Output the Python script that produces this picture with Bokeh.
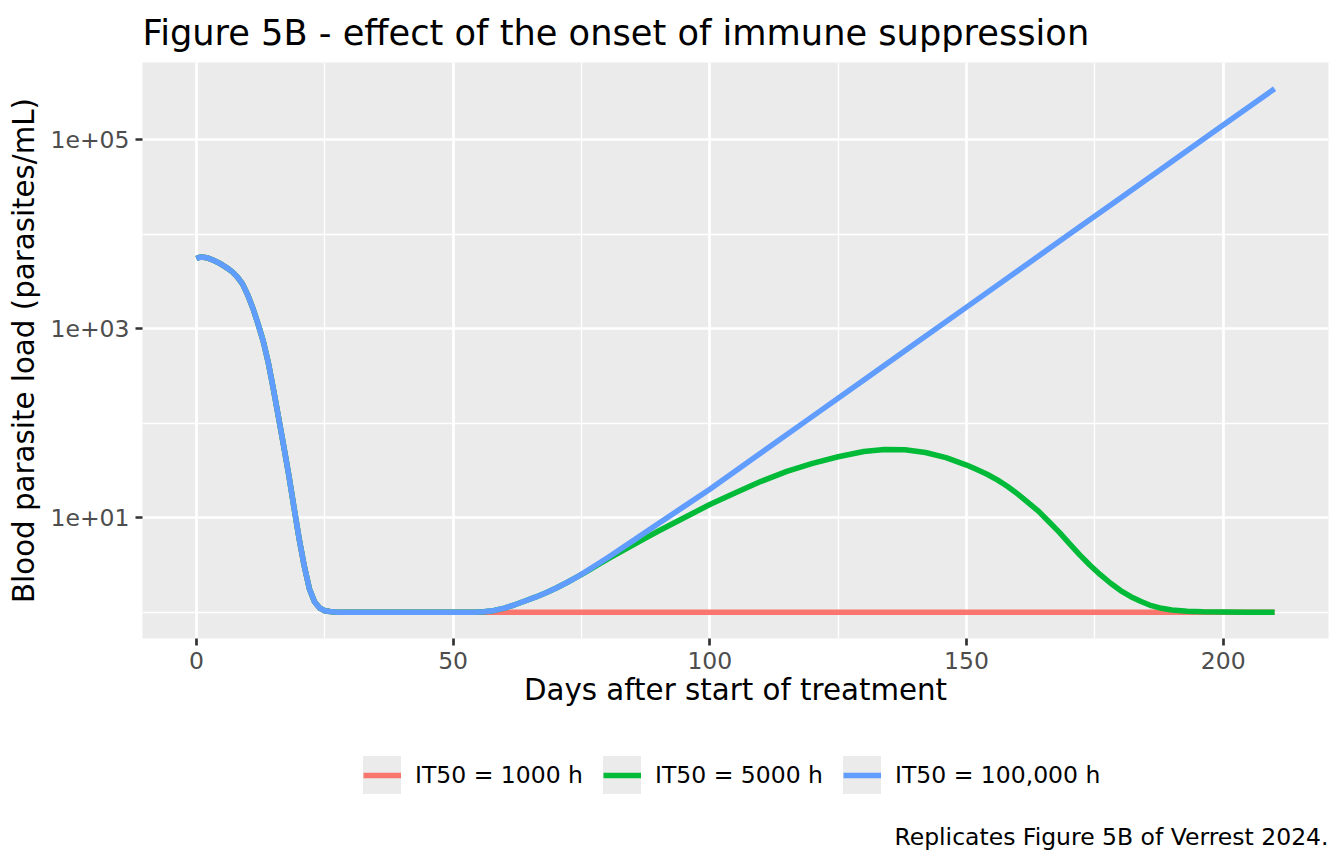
import numpy as np
from bokeh.plotting import figure
from bokeh.layouts import column
from bokeh.models import (ColumnDataSource, Range1d, FixedTicker, Legend,
                          LegendItem, Label)
from bokeh.embed import file_html
from bokeh.resources import INLINE

# ---------------- data ----------------
# shared initial decline (all three scenarios overlap)
decline_days = [0, 0.5, 1, 2, 3, 4, 5, 6, 7, 8, 9, 10, 11, 12, 13, 14, 15,
                16, 17, 18, 19, 20, 21, 22, 23, 24, 25, 26, 27, 28]
decline_load = [5508, 5649, 5715, 5623, 5370, 5070, 4732, 4365, 3981, 3508,
                2951, 2265, 1641, 1122, 741, 437, 229, 115, 57.5, 28.2, 12.9,
                6.03, 3.09, 1.78, 1.29, 1.11, 1.04, 1.02, 1.007, 1.0]

# IT50 = 1000 h : stays at the floor
red_tail_days = [40, 55, 80, 120, 160, 210]
red_tail_load = [1.0, 1.0, 1.0, 1.0, 1.0, 1.0]

# shared plateau + start of relapse (5000 h and 100,000 h overlap)
rise_days = [40, 54, 56, 58, 60, 62, 64, 66, 68, 70, 72, 74]
rise_load = [1.0, 1.0, 1.012, 1.047, 1.109, 1.202, 1.318, 1.445, 1.603,
             1.799, 2.042, 2.344]

# IT50 = 5000 h
green_tail_days = [76, 78, 80, 82, 85, 88, 90, 95, 100, 105, 110, 115, 120,
                   125, 130, 134, 138, 142, 146, 150, 152, 154, 156, 158, 160,
                   162, 164, 166, 168, 170, 172, 174, 176, 178, 180, 182, 184,
                   186, 188, 190, 193, 196, 200, 205, 210]
green_tail_load = [2.692, 3.126, 3.631, 4.169, 5.129, 6.310, 7.244, 10.0,
                   13.80, 18.41, 24.27, 30.90, 37.58, 44.16, 50.12, 52.72,
                   52.24, 48.98, 43.15, 36.06, 32.36, 28.84, 25.12, 21.38,
                   17.78, 14.45, 11.75, 9.12, 7.079, 5.370, 4.074, 3.162,
                   2.512, 2.042, 1.698, 1.462, 1.303, 1.175, 1.102, 1.059,
                   1.026, 1.012, 1.005, 1.001, 1.0]

# IT50 = 100,000 h
blue_tail_days = [76, 78, 80, 85, 90, 95, 100, 110, 120, 130, 140, 150, 160,
                  170, 180, 190, 200, 210]
blue_tail_load = [2.723, 3.199, 3.758, 5.689, 8.710, 13.18, 20.04, 48.6,
                  118.0, 286.4, 695, 1687, 4093, 9931, 24099, 58479, 141906,
                  344350]

series_labels = ["IT50 = 1000 h", "IT50 = 5000 h", "IT50 = 100,000 h"]
series_colors = ["#F8766D", "#00BA38", "#619CFF"]

x_ticks = [0, 50, 100, 150, 200]
x_minor = [25, 75, 125, 175]
y_ticks = [10, 1000, 100000]
y_tick_labels = ["1e+01", "1e+03", "1e+05"]
y_minor = [1, 100, 10000, 1000000]

title_text = "Figure 5B - effect of the onset of immune suppression"
x_label = "Days after start of treatment"
y_label = "Blood parasite load (parasites/mL)"
caption_text = "Replicates Figure 5B of Verrest 2024."

# ---------------- series assembly ----------------
series = [
    (decline_days + red_tail_days, decline_load + red_tail_load),
    (decline_days + rise_days + green_tail_days,
     decline_load + rise_load + green_tail_load),
    (decline_days + rise_days + blue_tail_days,
     decline_load + rise_load + blue_tail_load),
]

all_x = np.concatenate([np.array(s[0], float) for s in series])
all_y = np.log10(np.concatenate([np.array(s[1], float) for s in series]))
xpad = 0.05 * (all_x.max() - all_x.min())
ypad = 0.05 * (all_y.max() - all_y.min())

FONT = "DejaVu Sans"
W = 1344
MAIN_H = 720
LEG_H = 864 - MAIN_H
LEFT, RIGHT = 142, 16
FRAME_W = W - LEFT - RIGHT

p = figure(width=W, height=MAIN_H,
           x_range=Range1d(all_x.min() - xpad, all_x.max() + xpad),
           y_range=Range1d(10 ** (all_y.min() - ypad), 10 ** (all_y.max() + ypad)),
           y_axis_type="log", output_backend="svg", toolbar_location=None,
           min_border_left=LEFT, min_border_right=RIGHT, min_border_top=62,
           min_border_bottom=MAIN_H - 638)

p.background_fill_color = "#EBEBEB"
p.border_fill_color = "white"
p.outline_line_color = None

# title
p.title.text = title_text
p.title.text_font = FONT
p.title.text_font_size = "35.2px"
p.title.text_font_style = "normal"
p.title.text_color = "black"
p.title.align = "left"
p.title.standoff = 19

# ticks
xt = FixedTicker(ticks=x_ticks, minor_ticks=x_minor)
yt = FixedTicker(ticks=y_ticks, minor_ticks=y_minor)
p.xaxis.ticker = xt
p.yaxis.ticker = yt
p.xgrid.ticker = xt
p.ygrid.ticker = yt
p.yaxis.major_label_overrides = dict(zip(y_ticks, y_tick_labels))

for g in (p.xgrid, p.ygrid):
    g.grid_line_color = "white"
    g.grid_line_width = 2.7
    g.minor_grid_line_color = "white"
    g.minor_grid_line_width = 1.35

for ax in (p.xaxis, p.yaxis):
    ax.axis_line_color = None
    ax.major_tick_line_color = "#333333"
    ax.major_tick_line_width = 2.7
    ax.major_tick_in = 0
    ax.major_tick_out = 7
    ax.minor_tick_line_color = None
    ax.major_label_text_font = FONT
    ax.major_label_text_font_size = "23.5px"
    ax.major_label_text_color = "#4D4D4D"
    ax.major_label_standoff = 6
    ax.axis_label_text_font = FONT
    ax.axis_label_text_font_size = "29.3px"
    ax.axis_label_text_font_style = "normal"
    ax.axis_label_text_color = "black"
    ax.axis_label_standoff = 6

p.xaxis.axis_label_standoff = 1
p.xaxis.axis_label = x_label
p.yaxis.axis_label = y_label

# data lines
for (xs, ys), col in zip(series, series_colors):
    src = ColumnDataSource(dict(x=xs, y=ys))
    p.line("x", "y", source=src, line_color=col, line_width=5.5,
           line_join="round")

# ---------------- legend + caption strip ----------------
q = figure(width=W, height=LEG_H, x_range=Range1d(0, 1), y_range=Range1d(0, 1),
           output_backend="svg", toolbar_location=None,
           x_axis_location=None, y_axis_location=None,
           min_border_left=LEFT, min_border_right=RIGHT,
           min_border_top=0, min_border_bottom=0)
q.grid.visible = False
q.outline_line_color = None
q.background_fill_color = "white"
q.border_fill_color = "white"

# grey key square: inset rect widened by a thick same-colour stroke
key_bg = q.rect(x=[np.nan], y=[np.nan], width=1, height=1,
                fill_color="#EBEBEB", line_color="#EBEBEB", line_width=15.4,
                line_join="miter")
key_lines = [q.line(x=[np.nan], y=[np.nan], line_color=col, line_width=5.5)
             for col in series_colors]

legend = Legend(
    items=[LegendItem(label=lab, renderers=[key_bg, r])
           for lab, r in zip(series_labels, key_lines)],
    orientation="horizontal", location=(363 - LEFT, 70),
    glyph_width=38, glyph_height=38, label_standoff=14, spacing=20,
    label_text_font=FONT, label_text_font_size="23.5px",
    label_text_color="black", border_line_color=None,
    background_fill_alpha=0, padding=0, margin=0)
q.add_layout(legend, "center")

caption = Label(x=FRAME_W, y=28, x_units="screen", y_units="screen",
                text=caption_text, text_align="right",
                text_baseline="middle", text_font=FONT,
                text_font_size="23.5px", text_color="black")
q.add_layout(caption, "center")

layout = column(p, q, spacing=0)
open("out.html", "w").write(file_html(layout, INLINE))
